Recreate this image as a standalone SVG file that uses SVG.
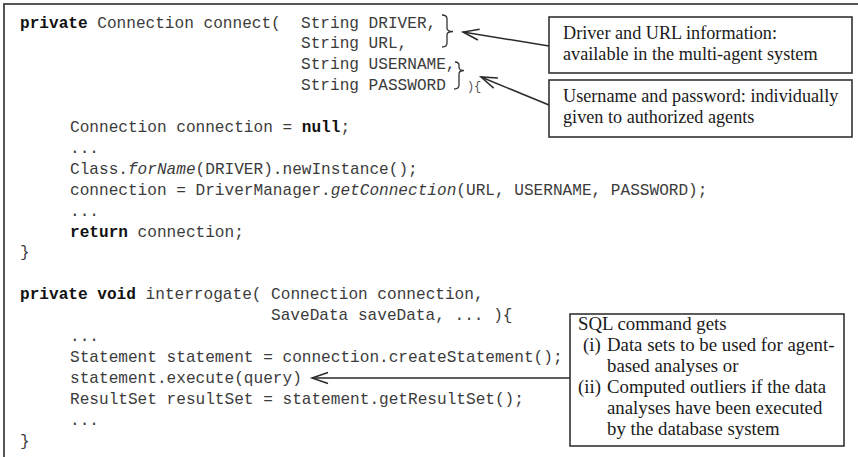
<svg xmlns="http://www.w3.org/2000/svg" width="858" height="457" viewBox="0 0 858 457">
  <style>
    .code { font-family: "Liberation Mono", "Courier New", monospace; font-size: 16.1px; fill: #3c3c3c; white-space: pre; }
    .kw { font-weight: bold; fill: #111; }
    .it { font-style: italic; }
    .small { font-family: "Liberation Mono", "Courier New", monospace; font-size: 12px; fill: #555; }
    .note { font-family: "Liberation Serif", "Times New Roman", serif; font-size: 18.2px; fill: #1a1a1a; }
    .note-sql { font-family: "Liberation Serif", "Times New Roman", serif; font-size: 18.8px; fill: #1a1a1a; }
    .box { fill: #fff; stroke: #333; stroke-width: 1.6; }
    .frame { fill: #fff; stroke: #444; stroke-width: 1.8; }
    .brace { fill: none; stroke: #333; stroke-width: 1.3; }
    .conn { fill: none; stroke: #2a2a2a; stroke-width: 1.5; marker-end: url(#openArrow); }
  </style>
  <defs>
    <marker id="openArrow" markerUnits="userSpaceOnUse" viewBox="-18 -8 20 16" markerWidth="20" markerHeight="16" refX="0" refY="0" orient="auto" overflow="visible">
      <path d="M-16,-5.5 L0,0 L-16,5.5" fill="none" stroke="#2a2a2a" stroke-width="1.5"/>
    </marker>
  </defs>

  <!-- outer frame of the listing -->
  <rect class="frame" x="4" y="4" width="872" height="474"/>

  <!-- connect() method -->
  <g id="connect-method">
    <text class="code" x="20" y="27.5"><tspan class="kw">private</tspan> Connection connect(</text>
    <text class="code" x="301" y="27.5">String DRIVER,</text>
    <text class="code" x="301" y="48.4">String URL,</text>
    <text class="code" x="301" y="69.3">String USERNAME,</text>
    <text class="code" x="301" y="90.2">String PASSWORD</text>
    <text class="small" x="467" y="90.2">)</text>
    <text class="small" x="474" y="90.2">{</text>
    <text class="code" x="70" y="132"><tspan>Connection connection = </tspan><tspan class="kw">null</tspan>;</text>
    <text class="code" x="70" y="152.9">...</text>
    <text class="code" x="70" y="173.8">Class.<tspan class="it">forName</tspan>(DRIVER).newInstance();</text>
    <text class="code" x="70" y="194.7">connection = DriverManager.<tspan class="it">getConnection</tspan>(URL, USERNAME, PASSWORD);</text>
    <text class="code" x="70" y="215.6">...</text>
    <text class="code" x="70" y="236.5"><tspan class="kw">return</tspan> connection;</text>
    <text class="code" x="20" y="257.4">}</text>
    <!-- braces grouping the parameters -->
    <path class="brace" d="M442,15 Q447,15 447,19 L447,28 Q447,31.5 453,31.5 Q447,31.5 447,35 L447,43 Q447,47 442,47"/>
    <path class="brace" d="M455,62 Q459,62 459,65.5 L459,67 Q459,70.5 464,70.5 Q459,70.5 459,74 L459,85 Q459,89 454,89"/>
  </g>

  <!-- interrogate() method -->
  <g id="interrogate-method">
    <text class="code" x="20" y="299.2"><tspan class="kw">private void</tspan> interrogate( Connection connection,</text>
    <text class="code" x="271" y="320.1">SaveData saveData, ... ){</text>
    <text class="code" x="70" y="341">...</text>
    <text class="code" x="70" y="361.9">Statement statement = connection.createStatement();</text>
    <text class="code" x="70" y="382.8">statement.execute(query)</text>
    <text class="code" x="70" y="403.7">ResultSet resultSet = statement.getResultSet();</text>
    <text class="code" x="70" y="424.6">...</text>
    <text class="code" x="20" y="445.5">}</text>
  </g>

  <!-- annotation: driver and URL -->
  <g id="note-driver-url">
    <rect class="box" x="549" y="17" width="303" height="56"/>
    <text class="note" x="563" y="39">Driver and URL information:</text>
    <text class="note" x="563" y="60">available in the multi-agent system</text>
  </g>

  <!-- annotation: username and password -->
  <g id="note-credentials">
    <rect class="box" x="549" y="80" width="303" height="57"/>
    <text class="note" x="563" y="102">Username and password: individually</text>
    <text class="note" x="563" y="123">given to authorized agents</text>
  </g>

  <!-- annotation: SQL command -->
  <g id="note-sql">
    <rect class="box" x="570" y="314" width="274" height="132"/>
    <text class="note-sql" x="578" y="330">SQL command gets</text>
    <text class="note-sql" x="583" y="351">(i)</text>
    <text class="note-sql" x="607" y="351">Data sets to be used for agent-</text>
    <text class="note-sql" x="607" y="372">based analyses or</text>
    <text class="note-sql" x="578" y="393">(ii)</text>
    <text class="note-sql" x="607" y="393">Computed outliers if the data</text>
    <text class="note-sql" x="607" y="414">analyses have been executed</text>
    <text class="note-sql" x="607" y="435">by the database system</text>
  </g>

  <!-- connectors from the notes to the code -->
  <g id="connectors">
    <line class="conn" x1="549" y1="46" x2="463" y2="32"/>
    <line class="conn" x1="549" y1="105" x2="481" y2="77"/>
    <line class="conn" x1="570" y1="378" x2="312" y2="378"/>
  </g>
</svg>
